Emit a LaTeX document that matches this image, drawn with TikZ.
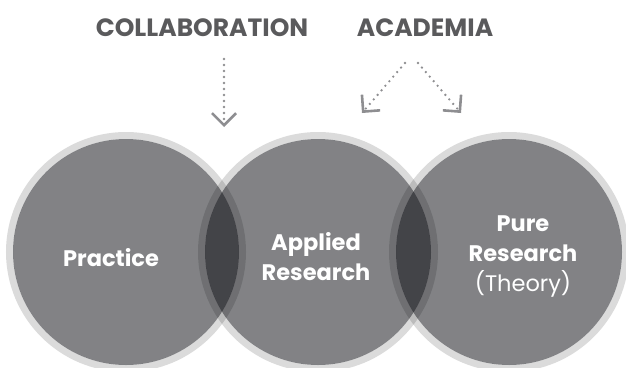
\documentclass[tikz,border=0pt]{standalone}
\usepackage{fontspec}
\setmainfont{Poppins}
\usepackage{tikz}
\usepackage{xcolor}
\usetikzlibrary{arrows.meta}
\definecolor{discgray}{RGB}{5,6,12}
\definecolor{headgray}{RGB}{90,90,92}
\definecolor{arrowgray}{RGB}{142,142,145}

\begin{document}
\begin{tikzpicture}[x=1pt,y=-1pt,
  disc/.style={fill=discgray,fill opacity=0.5},
  rim/.style={draw=black,draw opacity=0.14,line width=7pt},
  heading/.style={text=headgray,font=\fontsize{25}{30}\selectfont\bfseries},
  circletext/.style={text=white,font=\fontsize{22.5}{30}\selectfont\bfseries,align=center},
  dotarrow/.style={arrowgray,line width=2.6pt,line cap=round,dash pattern=on 0pt off 6pt,
    -{Straight Barb[length=12pt,width=24pt,line width=2.6pt]}}]
\def\practicedisc{(126,252) circle (113pt)}
\def\applieddisc{(318,252) circle (113pt)}
\def\puredisc{(509,252) circle (113pt)}

\useasboundingbox (0,0) rectangle (626,367);

\fill[disc] \practicedisc;
\fill[disc] \applieddisc;
\fill[disc] \puredisc;
\draw[rim] (126,252) circle (116.5pt);
\draw[rim] (318,252) circle (116.5pt);
\draw[rim] (509,252) circle (116.5pt);

\node[heading] (collab) at (202,28) {COLLABORATION};
\node[heading] (academia) at (425,28) {ACADEMIA};

\node[circletext] (practice) at (111,258) {Practice};
\node[circletext] (applied) at (316,257) {Applied\\Research};
\node[circletext] (pure) at (523,256) {Pure\\Research\\{\mdseries(Theory)}};

\coordinate (collabstart) at (224,59);
\coordinate (collabtip) at (224,127);
\coordinate (acadleft) at (405,63);
\coordinate (acadright) at (418,63);
\coordinate (appliedtip) at (362,113);
\coordinate (puretip) at (461,113);

\draw[dotarrow] (collabstart) -- (collabtip);
\draw[dotarrow] (acadleft) -- (appliedtip);
\draw[dotarrow] (acadright) -- (puretip);
\end{tikzpicture}
\end{document}
